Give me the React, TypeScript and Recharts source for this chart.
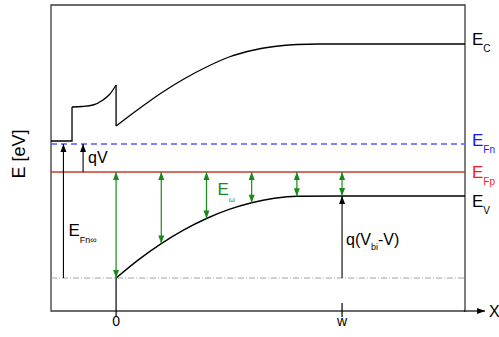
import React from 'react';
import { ComposedChart, Line, XAxis, YAxis, ReferenceLine, ReferenceDot, ReferenceArea } from 'recharts';

// x in units where the depletion width w = 10, energies in eV above the plot floor
const X_MIN = -2.88;
const X_MAX = 15.44;
const E_MAX = 3.06;

const xTicks = [0, 10];
const xTickLabels = ['0', 'w'];

// conduction band, split where it jumps
const ecStep = [{ x: -2.88, y: 1.7 }, { x: -1.95, y: 1.7 }, { x: -1.95, y: 2.04 }];
const ecNotch = [
  { x: -1.95, y: 2.04 }, { x: -1.5, y: 2.045 }, { x: -1.02, y: 2.06 },
  { x: -0.58, y: 2.11 }, { x: -0.27, y: 2.17 }, { x: 0, y: 2.26 },
];
const ecDrop = [{ x: 0, y: 2.26 }, { x: 0, y: 1.85 }];
const ecBulk = [
  { x: 0, y: 1.85 }, { x: 1, y: 2.02 }, { x: 2, y: 2.18 }, { x: 3, y: 2.32 },
  { x: 4, y: 2.44 }, { x: 5, y: 2.54 }, { x: 6, y: 2.605 }, { x: 7, y: 2.645 },
  { x: 8, y: 2.665 }, { x: 9, y: 2.67 }, { x: 15.44, y: 2.67 },
];

// valence band
const evBulk = [
  { x: 0, y: 0.33 }, { x: 1, y: 0.514 }, { x: 2, y: 0.674 }, { x: 3, y: 0.811 },
  { x: 4, y: 0.925 }, { x: 5, y: 1.016 }, { x: 6, y: 1.083 }, { x: 7, y: 1.127 },
  { x: 8, y: 1.148 }, { x: 10, y: 1.15 }, { x: 15.44, y: 1.15 },
];

const EFN = 1.67;
const EFP = 1.39;
const E_FLOOR = 0.33; // Ev at the interface, dash-dot reference

// green E_omega arrows between EFp and Ev
const omegaX = [0, 2, 4, 6, 8, 10];
const omegaEv = [0.33, 0.674, 0.925, 1.083, 1.148, 1.15];

const FONT = '"Liberation Sans", Arial, sans-serif';
const GREEN = '#1a8a1a';

const arrow = (color: string, both: boolean, w = 1.2) => (p: any) => {
  const { x1, y1, x2, y2 } = p;
  const len = Math.hypot(x2 - x1, y2 - y1) || 1;
  const ux = (x2 - x1) / len;
  const uy = (y2 - y1) / len;
  const hl = 8;
  const hw = 3;
  const head = (tx: number, ty: number, dx: number, dy: number) => {
    const bx = tx - dx * hl;
    const by = ty - dy * hl;
    return `${tx},${ty} ${bx - dy * hw},${by + dx * hw} ${bx + dy * hw},${by - dx * hw}`;
  };
  return (
    <g>
      <line x1={x1} y1={y1} x2={x2} y2={y2} stroke={color} strokeWidth={w} />
      <polygon points={head(x2, y2, ux, uy)} fill={color} />
      {both && <polygon points={head(x1, y1, -ux, -uy)} fill={color} />}
    </g>
  );
};

const subLabel = (main: string, sub: string, color: string, dx: number, opts: any = {}) => (p: any) => {
  const size = opts.size ?? 17;
  const subSize = opts.subSize ?? 10;
  const subDy = opts.subDy ?? 7;
  return (
    <text x={p.cx + dx} y={p.cy} fill={color} fontFamily={FONT} fontSize={size}>
      {main}
      <tspan fontSize={subSize} dy={subDy}>{sub}</tspan>
      {opts.tail && <tspan fontSize={size} dy={-subDy}>{opts.tail}</tspan>}
    </text>
  );
};

export default function App() {
  return (
    <div style={{ position: 'absolute', left: 0, top: 0, background: '#fff' }}>
      <ComposedChart width={499} height={337} margin={{ top: 5, right: 34, bottom: 0, left: 0 }}>
        <XAxis
          type="number"
          dataKey="x"
          domain={[X_MIN, X_MAX]}
          allowDataOverflow
          ticks={xTicks}
          tickFormatter={(v: number) => xTickLabels[xTicks.indexOf(v)]}
          axisLine={false}
          tickLine={false}
          tickSize={3}
          tickMargin={2}
          height={26}
          tick={{ fill: '#000', fontSize: 14, fontFamily: FONT }}
        />
        <YAxis
          type="number"
          dataKey="y"
          domain={[0, E_MAX]}
          allowDataOverflow
          width={51}
          axisLine={false}
          tickLine={false}
          tick={false}
        />

        <ReferenceArea x1={X_MIN} x2={X_MAX} y1={0} y2={E_MAX} fill="none" stroke="#3a3a3a" strokeWidth={1.3} />

        {/* x axis arrow past the frame */}
        <ReferenceLine
          segment={[{ x: X_MAX - 0.05, y: 0 }, { x: 16.33, y: 0 }]}
          ifOverflow="visible"
          shape={arrow('#000', false, 1.2)}
        />
        {/* tick marks */}
        <ReferenceLine segment={[{ x: 0, y: -0.05 }, { x: 0, y: E_FLOOR }]} ifOverflow="visible" stroke="#000" strokeWidth={1.2} />
        <ReferenceLine segment={[{ x: 10, y: -0.06 }, { x: 10, y: 0.08 }]} ifOverflow="visible" stroke="#000" strokeWidth={1.2} />

        {/* reference levels */}
        <ReferenceLine y={E_FLOOR} stroke="#a0a0a0" strokeDasharray="6 2 1 2" strokeWidth={1} segment={[{ x: X_MIN, y: E_FLOOR }, { x: 15.22, y: E_FLOOR }]} />
        <ReferenceLine y={EFN} stroke="#5a5aff" strokeDasharray="6 4" strokeWidth={1.3} />
        <ReferenceLine y={EFP} stroke="#c83a32" strokeWidth={1.4} />

        {/* band edges */}
        <Line data={ecStep} dataKey="y" type="linear" stroke="#000" strokeWidth={1.3} dot={false} isAnimationActive={false} />
        <Line data={ecNotch} dataKey="y" type="monotone" stroke="#000" strokeWidth={1.3} dot={false} isAnimationActive={false} />
        <Line data={ecDrop} dataKey="y" type="linear" stroke="#000" strokeWidth={1.3} dot={false} isAnimationActive={false} />
        <Line data={ecBulk} dataKey="y" type="monotone" stroke="#000" strokeWidth={1.3} dot={false} isAnimationActive={false} />
        <Line data={evBulk} dataKey="y" type="monotone" stroke="#000" strokeWidth={1.4} dot={false} isAnimationActive={false} />

        {/* E_omega arrows */}
        {omegaX.map((x, i) => (
          <ReferenceLine
            key={x}
            segment={[{ x, y: EFP }, { x, y: omegaEv[i] }]}
            shape={arrow(GREEN, true, 1.2)}
          />
        ))}

        {/* black arrows */}
        <ReferenceLine segment={[{ x: -2.33, y: E_FLOOR }, { x: -2.33, y: EFN }]} shape={arrow('#000', false, 1.1)} />
        <ReferenceLine segment={[{ x: -1.46, y: EFP }, { x: -1.46, y: EFN }]} shape={arrow('#000', false, 1.1)} />
        <ReferenceLine segment={[{ x: 10, y: E_FLOOR }, { x: 10, y: 1.15 }]} shape={arrow('#000', false, 1.1)} />

        {/* labels */}
        <ReferenceDot x={X_MAX} y={2.66} r={0} ifOverflow="visible" shape={subLabel('E', 'C', '#000', 7)} />
        <ReferenceDot x={X_MAX} y={1.65} r={0} ifOverflow="visible" shape={subLabel('E', 'Fn', '#1515ff', 7)} />
        <ReferenceDot x={X_MAX} y={1.33} r={0} ifOverflow="visible" shape={subLabel('E', 'Fp', '#ff1a1a', 7)} />
        <ReferenceDot x={X_MAX} y={1.04} r={0} ifOverflow="visible" shape={subLabel('E', 'V', '#000', 7)} />
        <ReferenceDot x={-1.46} y={1.48} r={0} ifOverflow="visible" shape={(p: any) => (
          <text x={p.cx + 5} y={p.cy} fontFamily={FONT} fontSize={16} fill="#000">qV</text>
        )} />
        <ReferenceDot x={-2.33} y={0.75} r={0} ifOverflow="visible" shape={subLabel('E', 'Fn\u221e', '#000', 5, { subSize: 9 })} />
        <ReferenceDot x={4} y={1.16} r={0} ifOverflow="visible" shape={subLabel('E', '\u03c9', GREEN, 11, { subSize: 8 })} />
        <ReferenceDot x={10} y={0.66} r={0} ifOverflow="visible" shape={subLabel('q(V', 'bi', '#000', 4, { size: 16, subSize: 9, subDy: 5, tail: '-V)' })} />
        <ReferenceDot x={X_MAX} y={0} r={0} ifOverflow="visible" shape={(p: any) => (
          <text x={p.cx + 24} y={p.cy + 6} fontFamily={FONT} fontSize={16} fill="#000">X</text>
        )} />
        <ReferenceDot x={X_MIN} y={1.57} r={0} ifOverflow="visible" shape={(p: any) => (
          <text
            x={p.cx - 26}
            y={p.cy}
            transform={`rotate(-90 ${p.cx - 26} ${p.cy})`}
            textAnchor="middle"
            fontFamily={FONT}
            fontSize={18}
            fill="#000"
          >
            E [eV]
          </text>
        )} />
      </ComposedChart>
    </div>
  );
}
